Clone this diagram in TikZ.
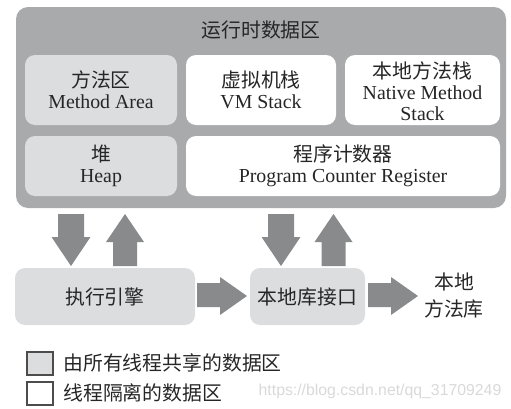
\documentclass[tikz,border=0pt]{standalone}
\usepackage{fontspec}
\setmainfont{Liberation Serif}
\newfontfamily\cjk{Noto Sans CJK SC}
\newfontfamily\wmfont{Liberation Sans}
\definecolor{areagray}{HTML}{A9AAAC}
\definecolor{sharegray}{HTML}{DCDDDF}
\definecolor{arrowgray}{HTML}{898A8C}

\begin{document}
\begin{tikzpicture}[x=0.02cm, y=-0.02cm,
    lbl/.style={align=center, text=black!85, font=\fontsize{11.3}{11.8}\selectfont},
    sharebox/.style={fill=sharegray, rounded corners=0.2cm},
    ownbox/.style={fill=white, rounded corners=0.2cm},
    keybox/.style={draw=black!70, line width=0.8pt},
    bigarrow/.style={fill=arrowgray}]
    \useasboundingbox (0,0) rectangle (511,409);
    % runtime data area
    \fill[areagray, rounded corners=0.24cm] (16,7) rectangle (506,208);
    \node[lbl] (rda) at (261,30) {\cjk 运行时数据区};
    \path[sharebox] (25,55) rectangle (177,125);
    \node[lbl] (method) at (101,90) {{\cjk 方法区}\\Method Area};
    \path[ownbox] (186,55) rectangle (336,125);
    \node[lbl] (vmstack) at (261,90) {{\cjk 虚拟机栈}\\VM Stack};
    \path[ownbox] (345,55) rectangle (500,125);
    \node[lbl] (native) at (422.5,91) {{\cjk 本地方法栈}\\Native Method\\Stack};
    \path[sharebox] (25,136) rectangle (177,196);
    \node[lbl] (heap) at (101,166) {{\cjk 堆}\\Heap};
    \path[ownbox] (186,136) rectangle (500,196);
    \node[lbl] (pc) at (343,166) {{\cjk 程序计数器}\\Program Counter Register};
    % engine and native interface
    \path[sharebox] (15,268) rectangle (195,325);
    \node[lbl] (engine) at (105,297) {\cjk 执行引擎};
    \path[sharebox] (250,268) rectangle (365,325);
    \node[lbl] (jni) at (307.5,297) {\cjk 本地库接口};
    \node[lbl, font=\cjk\fontsize{11.3}{15.3}\selectfont] (lib) at (454,295.5) {本地\\方法库};
    % block arrows
    \foreach \c in {71,281}
        \fill[bigarrow] (\c-13,214) -- (\c+13,214) -- (\c+13,237) -- (\c+19.5,237)
            -- (\c,266) -- (\c-19.5,237) -- (\c-13,237) -- cycle;
    \foreach \c in {125,333.5}
        \fill[bigarrow] (\c-12,266) -- (\c+12,266) -- (\c+12,242) -- (\c+19,242)
            -- (\c,214) -- (\c-19,242) -- (\c-12,242) -- cycle;
    \foreach \s in {197,368}
        \fill[bigarrow] (\s,283) -- (\s+23,283) -- (\s+23,277) -- (\s+50,296)
            -- (\s+23,315) -- (\s+23,307) -- (\s,307) -- cycle;
    % legend
    \draw[keybox, fill=sharegray] (27,352) rectangle (53,375);
    \draw[keybox, fill=white] (27,382) rectangle (53,405);
    \node[lbl, anchor=west, inner sep=0] (shared) at (63,363) {\cjk 由所有线程共享的数据区};
    \node[lbl, anchor=west, inner sep=0] (private) at (63,393) {\cjk 线程隔离的数据区};
    \node[text=black!15, font=\wmfont\fontsize{9}{10}\selectfont] (mark) at (380,391) {https://blog.csdn.net/qq\_31709249};
\end{tikzpicture}
\end{document}
